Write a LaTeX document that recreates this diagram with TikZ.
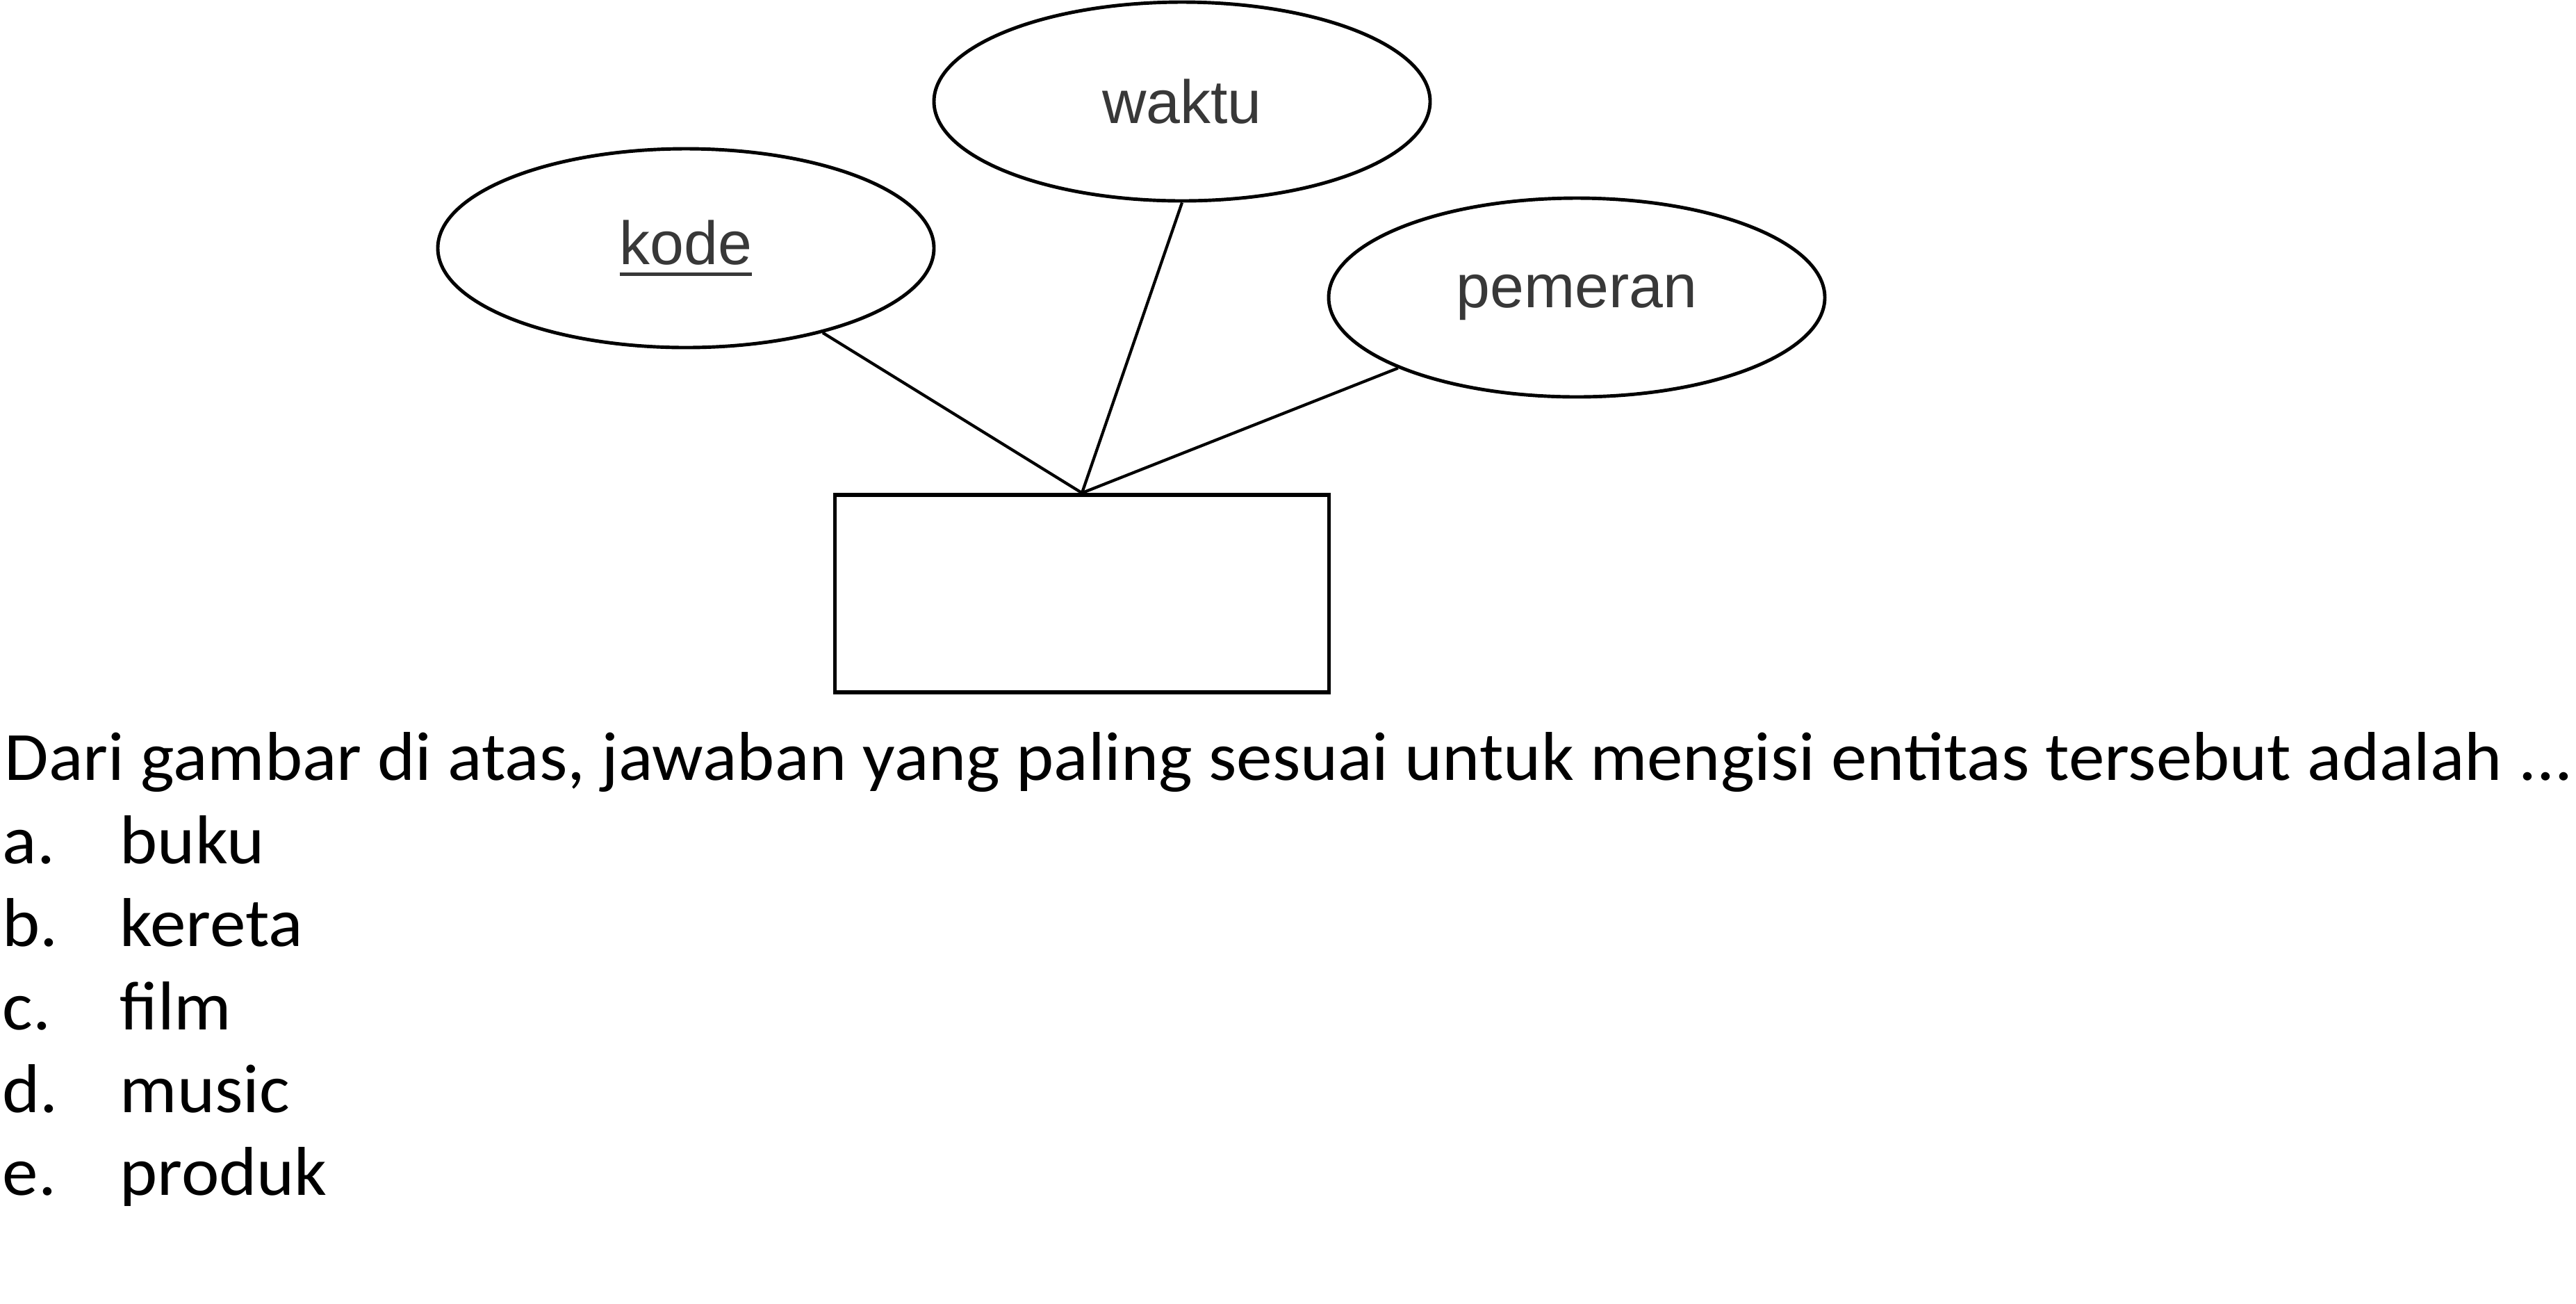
\documentclass[tikz,border=0pt]{standalone}
\usepackage{fontspec}
\setmainfont{Carlito}[FakeStretch=1.037]
\newfontfamily\attrfont{Liberation Sans}
\usepackage{xcolor}
\usepackage{tikz}
\usetikzlibrary{shapes.geometric}
\newcommand{\keyattr}[1]{\setbox0\hbox{#1}\rlap{\rule[-0.18em]{\wd0}{1.4pt}}\box0}

\begin{document}
\begin{tikzpicture}[
            attr/.style={draw, ellipse, line width=1.4pt, minimum width=7.14cm, minimum height=2.86cm,
                inner sep=0pt, font=\attrfont\fontsize{25}{30}\selectfont, text=black!78},
            entbox/.style={draw, rectangle, line width=1.6pt, minimum width=7.11cm, minimum height=2.84cm, inner sep=0pt},
            link/.style={line width=1.2pt},
            qtext/.style={anchor=base west, inner sep=0pt, font=\fontsize{28.3}{34}\selectfont}
        ]
            \useasboundingbox (0,0) rectangle (37.07,-18.75);

            \node[attr] (kode) at (9.87, -3.57) {\keyattr{kode}};
            \node[attr] (waktu) at (17.01, -1.46) {waktu};
            \node[attr] (pemeran) at (22.69, -4.28) {pemeran};
            \node[entbox] (ent) at (15.57, -8.54) {};

            \draw[link] (kode) -- (ent.north); % kode-ent
            \draw[link] (waktu.south) -- (ent.north); % waktu-ent
            \draw[link] (pemeran) -- (ent.north); % pemeran-ent

            \node[qtext] (soal) at (0.06, -11.22) {Dari gambar di atas, jawaban yang paling sesuai untuk mengisi entitas tersebut adalah ...};
            \node[qtext] (la) at (0.03, -12.42) {a.};
            \node[qtext] (oa) at (1.72, -12.42) {buku};
            \node[qtext] (lb) at (0.03, -13.61) {b.};
            \node[qtext] (ob) at (1.72, -13.61) {kereta};
            \node[qtext] (lc) at (0.03, -14.81) {c.};
            \node[qtext] (oc) at (1.72, -14.81) {film};
            \node[qtext] (ld) at (0.03, -16.00) {d.};
            \node[qtext] (od) at (1.72, -16.00) {music};
            \node[qtext] (le) at (0.03, -17.19) {e.};
            \node[qtext] (oe) at (1.72, -17.19) {produk};
        \end{tikzpicture}
\end{document}
